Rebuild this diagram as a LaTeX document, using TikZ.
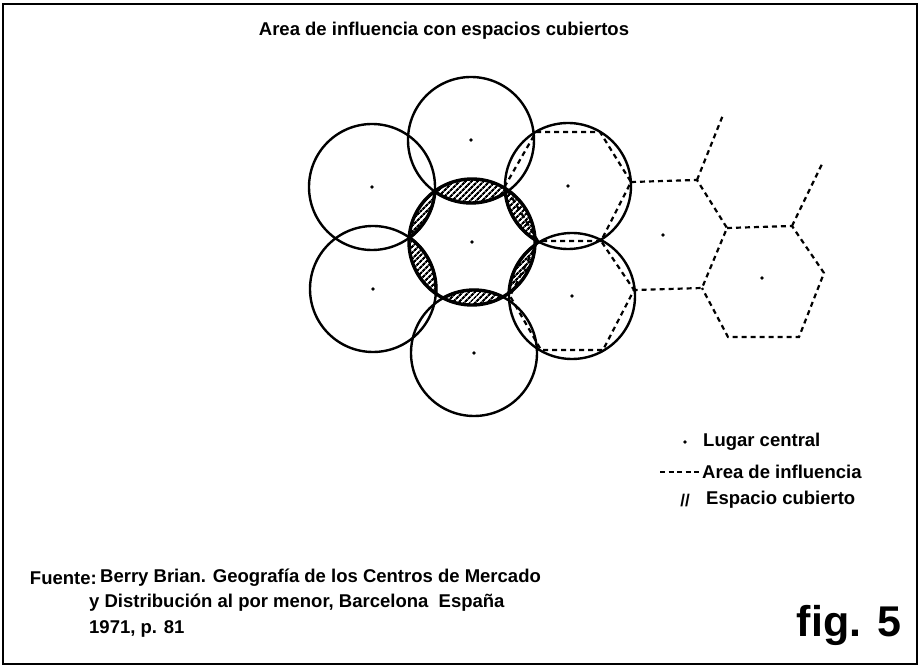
\documentclass[tikz,border=0pt]{standalone}
\usepackage{fontspec}
\setmainfont{Liberation Sans}
\usetikzlibrary{positioning,patterns.meta}

\begin{document}
\begin{tikzpicture}
[x=1pt, y=-1pt,
zone/.style={draw=black, line width=2.4pt},
core/.style={draw=black, line width=3.4pt},
cover/.style={pattern={Lines[angle=45,distance=4pt,line width=2.2pt]}},
area/.style={draw=black, line width=2.2pt, dash pattern=on 5pt off 4pt},
centre/.style={circle, fill=black, inner sep=0pt, minimum size=3.8pt},
texto/.style={font=\bfseries\fontsize{18.5}{22}\selectfont, inner sep=0pt}
]
\useasboundingbox (0,0) rectangle (919,668);
\draw[line width=2.6pt] (3,4) rectangle (917,664);

%Centres
\coordinate (c)  at (472,242);
\coordinate (n)  at (471,140);
\coordinate (nw) at (372,187);
\coordinate (sw) at (373,289);
\coordinate (s)  at (474,353);
\coordinate (ne) at (568,186);
\coordinate (se) at (572,296);
\coordinate (ha) at (663,235);
\coordinate (hb) at (762,278);

%Covered spaces
\foreach \k in {n,nw,sw,s,ne,se}{
  \begin{scope}
    \clip (c) circle [radius=63];
    \path[cover] (\k) circle [radius=63];
  \end{scope}
}

%Circles
\foreach \k in {n,nw,sw,s,ne,se}
  \draw[zone] (\k) circle [radius=63];
\draw[core] (c) circle [radius=63];
\begin{scope}
  \clip (c) circle [radius=63];
  \foreach \k in {n,nw,sw,s,ne,se}
    \draw[core] (\k) circle [radius=63];
\end{scope}

%Hexagons
\coordinate (p1) at (536,132);
\coordinate (p2) at (600,132);
\coordinate (p3) at (631,182);
\coordinate (p4) at (601,241);
\coordinate (p5) at (538,241);
\coordinate (p6) at (505,186);
\coordinate (q1) at (510,296);
\coordinate (q2) at (541,350);
\coordinate (q3) at (603,350);
\coordinate (q4) at (634,290);
\coordinate (r1) at (697,180);
\coordinate (r2) at (727,228);
\coordinate (r3) at (702,288);
\coordinate (t1) at (792,226);
\coordinate (t2) at (824,273);
\coordinate (t3) at (799,337);
\coordinate (t4) at (728,337);
\coordinate (e1) at (723,115);
\coordinate (e2) at (822,164);
\draw[area] (p1) -- (p2) -- (p3) -- (p4) -- (p5) -- (p6) -- cycle;
\draw[area] (p5) -- (q1) -- (q2) -- (q3) -- (q4) -- (p4);
\draw[area] (p3) -- (r1) -- (r2) -- (r3) -- (q4);
\draw[area] (r2) -- (t1) -- (t2) -- (t3) -- (t4) -- (r3);
\draw[area] (r1) -- (e1);
\draw[area] (t1) -- (e2);

%Central places
\foreach \k in {c,n,nw,sw,s,ne,se,ha,hb}
  \node[centre] (dot-\k) at (\k) {};

%Title
\node[texto] (title) at (444,31) {Area de influencia con espacios cubiertos};

%Legend
\node[centre] (kdot) at (685,442) {};
\node[texto, anchor=west] (klugar) at (703,442) {Lugar central};
\node[texto, anchor=west] (karea)  at (702,472) {Area de influencia};
\coordinate (kdash) at (660,472);
\draw[line width=1.8pt, dash pattern=on 5pt off 3.5pt] (kdash) -- (karea.west);
\node[texto, font=\bfseries\fontsize{17}{20}\selectfont] (khatch) at (685,501) {//};
\node[texto, anchor=west] (kcub)   at (706,500) {Espacio cubierto};

%Source
\node[texto, anchor=west] (ref1) at (100,578) {Berry Brian. Geografía de los Centros de Mercado};
\node[texto, anchor=east] (fuente) [left=3pt of ref1] {Fuente:};
\node[texto, anchor=west] (ref2) at (89,603) {y Distribución al por menor, Barcelona\ \ España};
\node[texto, anchor=west] (ref3) at (89,629) {1971, p. 81};
\node[texto, font=\bfseries\fontsize{43}{47}\selectfont] (fig) at (849,625) {fig. 5};
\end{tikzpicture}
\end{document}
